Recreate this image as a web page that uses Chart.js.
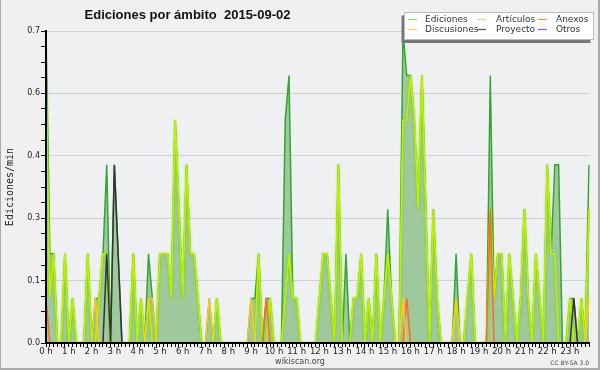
<!DOCTYPE html>
<html>
<head>
<meta charset="utf-8">
<script src="https://cdn.jsdelivr.net/npm/chart.js@4.4.1/dist/chart.umd.min.js"></script>
<style>
html,body{margin:0;padding:0;background:#f0f0f0;}
#wrap{width:600px;height:370px;position:relative;}
canvas{display:block;}
</style>
</head>
<body>
<div id="wrap"><canvas id="c" width="600" height="370"></canvas></div>
<script>
// ---- data (edits per minute, 10-minute slots) ----
const hourLabels = ['0 h','1 h','2 h','3 h','4 h','5 h','6 h','7 h','8 h','9 h','10 h','11 h',
  '12 h','13 h','14 h','15 h','16 h','17 h','18 h','19 h','20 h','21 h','22 h','23 h'];
const minuteLabels = ['00','10','20','30','40','50'];
const yTickLabels = ['0.0','0.1','0.3','0.4','0.6','0.7'];
const yTickValues = [0, 0.14, 0.28, 0.42, 0.56, 0.7];

const ediciones = [
  0.7,0.2,0.2,0,0,0.2,0,0.1,0,0,0,0.2,
  0,0.1,0.1,0.2,0.4,0,0.4,0.2,0,0,0,0.2,
  0,0.1,0,0.2,0.1,0,0.2,0.2,0.2,0.1,0.5,0.3,
  0.1,0.4,0.2,0.2,0.1,0,0,0.1,0,0.1,0,0,
  0,0,0,0,0,0,0.1,0.1,0.2,0,0.1,0.1,
  0,0,0,0.5,0.6,0.1,0.1,0,0,0,0,0,
  0.1,0.2,0.2,0.1,0,0.4,0,0.2,0,0.1,0.1,0.2,
  0,0.1,0,0.2,0,0.1,0.3,0.1,0,0,0.7,0.6,
  0.6,0.5,0.3,0.6,0.3,0,0.3,0.1,0,0,0,0,
  0.2,0,0,0.1,0.2,0,0,0,0,0.6,0.1,0.2,
  0.2,0,0.2,0.1,0,0.1,0.3,0.1,0,0.2,0.1,0,
  0.4,0.2,0.4,0.4,0,0,0.1,0.1,0,0.1,0,0.4
];
const articulos = [
  0.6,0.1,0.2,0,0,0.2,0,0.1,0,0,0,0.2,
  0,0,0.1,0.2,0.2,0,0,0,0,0,0,0.2,
  0,0.1,0,0.1,0,0,0.2,0.2,0.2,0.1,0.5,0.3,
  0.1,0.4,0.2,0.2,0.1,0,0,0,0,0.1,0,0,
  0,0,0,0,0,0,0,0,0.2,0,0,0.1,
  0,0,0,0.1,0.2,0.1,0.1,0,0,0,0,0,
  0.1,0.2,0.2,0.1,0,0.4,0,0,0,0.1,0.1,0.2,
  0,0.1,0,0.2,0,0.1,0.2,0.1,0,0,0.5,0.5,
  0.6,0.5,0.3,0.6,0.3,0,0.3,0.1,0,0,0,0,
  0.1,0,0,0.1,0.2,0,0,0,0,0.3,0.1,0.2,
  0.2,0,0.2,0.1,0,0.1,0.3,0.1,0,0.2,0.1,0,
  0.4,0.2,0.2,0,0,0,0.1,0,0,0.1,0,0.3
];
const anexos = [
  0.1,0,0,0,0,0,0,0,0,0,0,0,
  0,0,0,0,0,0,0,0,0,0,0,0,
  0,0,0,0,0,0,0,0,0,0,0,0,
  0,0,0,0,0,0,0,0,0,0,0,0,
  0,0,0,0,0,0,0,0,0,0,0.1,0,
  0,0,0,0,0,0,0,0,0,0,0,0,
  0,0,0,0,0,0,0,0,0,0,0,0,
  0,0,0,0,0,0,0,0,0,0,0,0.1,
  0,0,0,0,0,0,0,0,0,0,0,0,
  0,0,0,0,0,0,0,0,0,0.3,0,0,
  0,0,0,0,0,0,0,0,0,0,0,0,
  0,0,0,0,0,0,0,0,0,0,0,0
];
const discusiones = [
  0,0,0,0,0,0,0,0,0,0,0,0,
  0,0.1,0,0,0,0,0,0,0,0,0,0,
  0,0,0,0.1,0.1,0,0,0,0,0,0,0,
  0,0,0,0,0,0,0,0.1,0,0,0,0,
  0,0,0,0,0,0,0.1,0,0,0,0,0,
  0,0,0,0,0,0,0,0,0,0,0,0,
  0,0,0,0,0,0,0,0,0,0,0,0,
  0,0,0,0,0,0,0,0,0,0,0.1,0,
  0,0,0,0,0,0,0,0,0,0,0,0,
  0.1,0,0,0,0,0,0,0,0,0,0,0,
  0,0,0,0,0,0,0,0,0,0,0,0,
  0,0,0,0,0,0,0,0,0,0,0,0.1
];
const proyecto = [
  0,0,0,0,0,0,0,0,0,0,0,0,
  0,0,0,0,0.2,0,0.4,0.2,0,0,0,0,
  0,0,0,0,0,0,0,0,0,0,0,0,
  0,0,0,0,0,0,0,0,0,0,0,0,
  0,0,0,0,0,0,0,0,0,0,0,0,
  0,0,0,0,0,0,0,0,0,0,0,0,
  0,0,0,0,0,0,0,0,0,0,0,0,
  0,0,0,0,0,0,0,0,0,0,0,0,
  0,0,0,0,0,0,0,0,0,0,0,0,
  0,0,0,0,0,0,0,0,0,0,0,0,
  0,0,0,0,0,0,0,0,0,0,0,0,
  0,0,0,0,0,0,0,0.1,0,0,0,0
];
const otros = [
  0,0,0,0,0,0,0,0,0,0,0,0,
  0,0,0,0,0,0,0,0,0,0,0,0,
  0,0,0,0,0,0,0,0,0,0,0,0,
  0,0,0,0,0,0,0,0,0,0,0,0,
  0,0,0,0,0,0,0,0,0,0,0,0,
  0,0,0,0,0,0,0,0,0,0,0,0,
  0,0,0,0,0,0,0,0,0,0,0,0,
  0,0,0,0,0,0,0,0,0,0,0,0,
  0,0,0,0,0,0,0,0,0,0,0,0,
  0,0,0,0,0,0,0,0,0,0,0,0,
  0,0,0,0,0,0,0,0,0,0,0,0,
  0,0,0,0,0,0,0,0,0,0,0,0
];

const slots = hourLabels.flatMap(h => minuteLabels.map(m => h.replace(' h','') + ':' + m));

const legendItems = [
  {label:'Ediciones', color:'#90d490', col:0, row:0},
  {label:'Artículos', color:'#c8ec5a', col:1, row:0},
  {label:'Anexos', color:'#ff8050', col:2, row:0},
  {label:'Discusiones', color:'#ffd050', col:0, row:1},
  {label:'Proyecto', color:'#555555', col:1, row:1},
  {label:'Otros', color:'#9955ee', col:2, row:1}
];

const minorTicks = [];
for (let k = 0; k <= 20; k++) minorTicks.push({value: +(k * 0.035).toFixed(3)});

const decor = {
  id: 'decor',
  beforeDraw(chart) {
    const ctx = chart.ctx, a = chart.chartArea;
    ctx.save();
    ctx.fillStyle = '#f0f0f0';
    ctx.fillRect(0, 0, 600, 370);
    ctx.fillStyle = '#eff0f1';
    ctx.fillRect(a.left, a.top, a.right - a.left, a.bottom - a.top);
    ctx.restore();
  },
  beforeDatasetDraw(chart, args) {
    if (args.meta.label === 'Artículos') {
      chart.ctx.save();
      chart.ctx.shadowColor = 'rgba(80,190,20,0.8)';
      chart.ctx.shadowBlur = 1.5;
    }
  },
  afterDatasetDraw(chart, args) {
    if (args.meta.label === 'Artículos') chart.ctx.restore();
  },
  afterDraw(chart) {
    const ctx = chart.ctx;
    ctx.save();
    // title
    ctx.fillStyle = '#111';
    ctx.font = 'bold 13px "Liberation Sans"';
    ctx.textAlign = 'center';
    ctx.textBaseline = 'alphabetic';
    ctx.fillText('Ediciones por ámbito  2015-09-02', 187.5, 18.5);
    // legend box
    ctx.fillStyle = '#777';
    ctx.fillRect(401.5, 15.5, 189, 27.5);
    ctx.fillStyle = '#ffffff';
    ctx.fillRect(404, 12.5, 189, 27);
    ctx.strokeStyle = '#bbbbbb';
    ctx.lineWidth = 1;
    ctx.strokeRect(404.5, 12.5, 189, 27);
    const colLine = [408, 477, 538];
    const colText = [425, 496, 556];
    const rowY = [19, 29];
    ctx.font = '9px "DejaVu Sans"';
    ctx.textAlign = 'left';
    ctx.textBaseline = 'middle';
    legendItems.forEach(it => {
      const y = rowY[it.row];
      ctx.strokeStyle = it.color;
      ctx.lineWidth = 1.2;
      ctx.beginPath();
      ctx.moveTo(colLine[it.col], y + 0.5);
      ctx.lineTo(colLine[it.col] + 9, y + 0.5);
      ctx.stroke();
      ctx.fillStyle = '#333';
      ctx.fillText(it.label, colText[it.col], y + 0.5);
    });
    // footer
    ctx.fillStyle = '#444';
    ctx.textBaseline = 'alphabetic';
    ctx.textAlign = 'center';
    ctx.font = '8px "DejaVu Sans"';
    ctx.fillText('wikiscan.org', 300, 364);
    ctx.textAlign = 'right';
    ctx.font = '6px "DejaVu Sans"';
    ctx.fillText('CC BY-SA 3.0', 589, 365);
    // outer border
    ctx.fillStyle = '#aaaaaa';
    ctx.fillRect(0, 0, 1, 370);
    ctx.fillRect(598, 0, 2, 370);
    ctx.fillRect(0, 368, 600, 2);
    ctx.restore();
  }
};

Chart.defaults.font.family = '"DejaVu Sans"';

const line = (label, data, color, width, order, extra) => Object.assign({
  label, data, borderColor: color, borderWidth: width, pointRadius: 0,
  tension: 0, fill: false, order
}, extra || {});

new Chart(document.getElementById('c'), {
  type: 'line',
  data: {
    labels: slots,
    datasets: [
      line('Ediciones', ediciones, '#34a434', 1.5, 10, {fill: 'origin', backgroundColor: '#9dc99d'}),
      line('Artículos', articulos, '#bdf000', 1.8, 8),
      line('Anexos', anexos, '#ff6a20', 1.5, 6),
      line('Discusiones', discusiones, '#ffc820', 1.5, 5),
      line('Proyecto', proyecto, '#333333', 1.5, 4),
      line('Otros', otros, '#9933ff', 1.5, 7)
    ]
  },
  options: {
    responsive: false,
    animation: false,
    devicePixelRatio: 1,
    layout: {padding: {top: 31, right: 11, left: 0, bottom: 0}},
    plugins: {legend: {display: false}, tooltip: {enabled: false}, title: {display: false}},
    scales: {
      x: {
        type: 'category',
        offset: false,
        afterFit(s) { s.height = 27; },
        border: {display: true, color: '#000', width: 2, z: 2},
        grid: {drawOnChartArea: false, drawTicks: true, tickLength: 4, tickColor: '#000', tickWidth: 1},
        ticks: {
          autoSkip: false, maxRotation: 0, minRotation: 0, padding: 0,
          color: '#222', font: {size: 8.5},
          callback: (v, i) => (i % 6 === 0 ? hourLabels[i / 6] : '')
        }
      },
      y: {
        min: 0, max: 0.7,
        afterFit(s) { s.width = 46; },
        afterBuildTicks(s) { s.ticks = minorTicks.map(t => ({value: t.value})); },
        border: {display: true, color: '#000', width: 2, z: 2},
        grid: {
          drawTicks: true, tickLength: 5, tickColor: '#000', tickWidth: 1,
          color: c => (c.index % 4 === 0 && c.index > 0) ? '#cfcfcf' : 'rgba(0,0,0,0)'
        },
        ticks: {
          padding: 1, color: '#222', font: {size: 8},
          callback: (v, i) => (i % 4 === 0 ? yTickLabels[i / 4] : '')
        },
        title: {
          display: true, text: 'Ediciones/min', color: '#222',
          font: {family: '"DejaVu Sans Mono"', size: 10}, padding: {top: 4, bottom: 0}
        }
      }
    }
  },
  plugins: [decor]
});
</script>
</body>
</html>
